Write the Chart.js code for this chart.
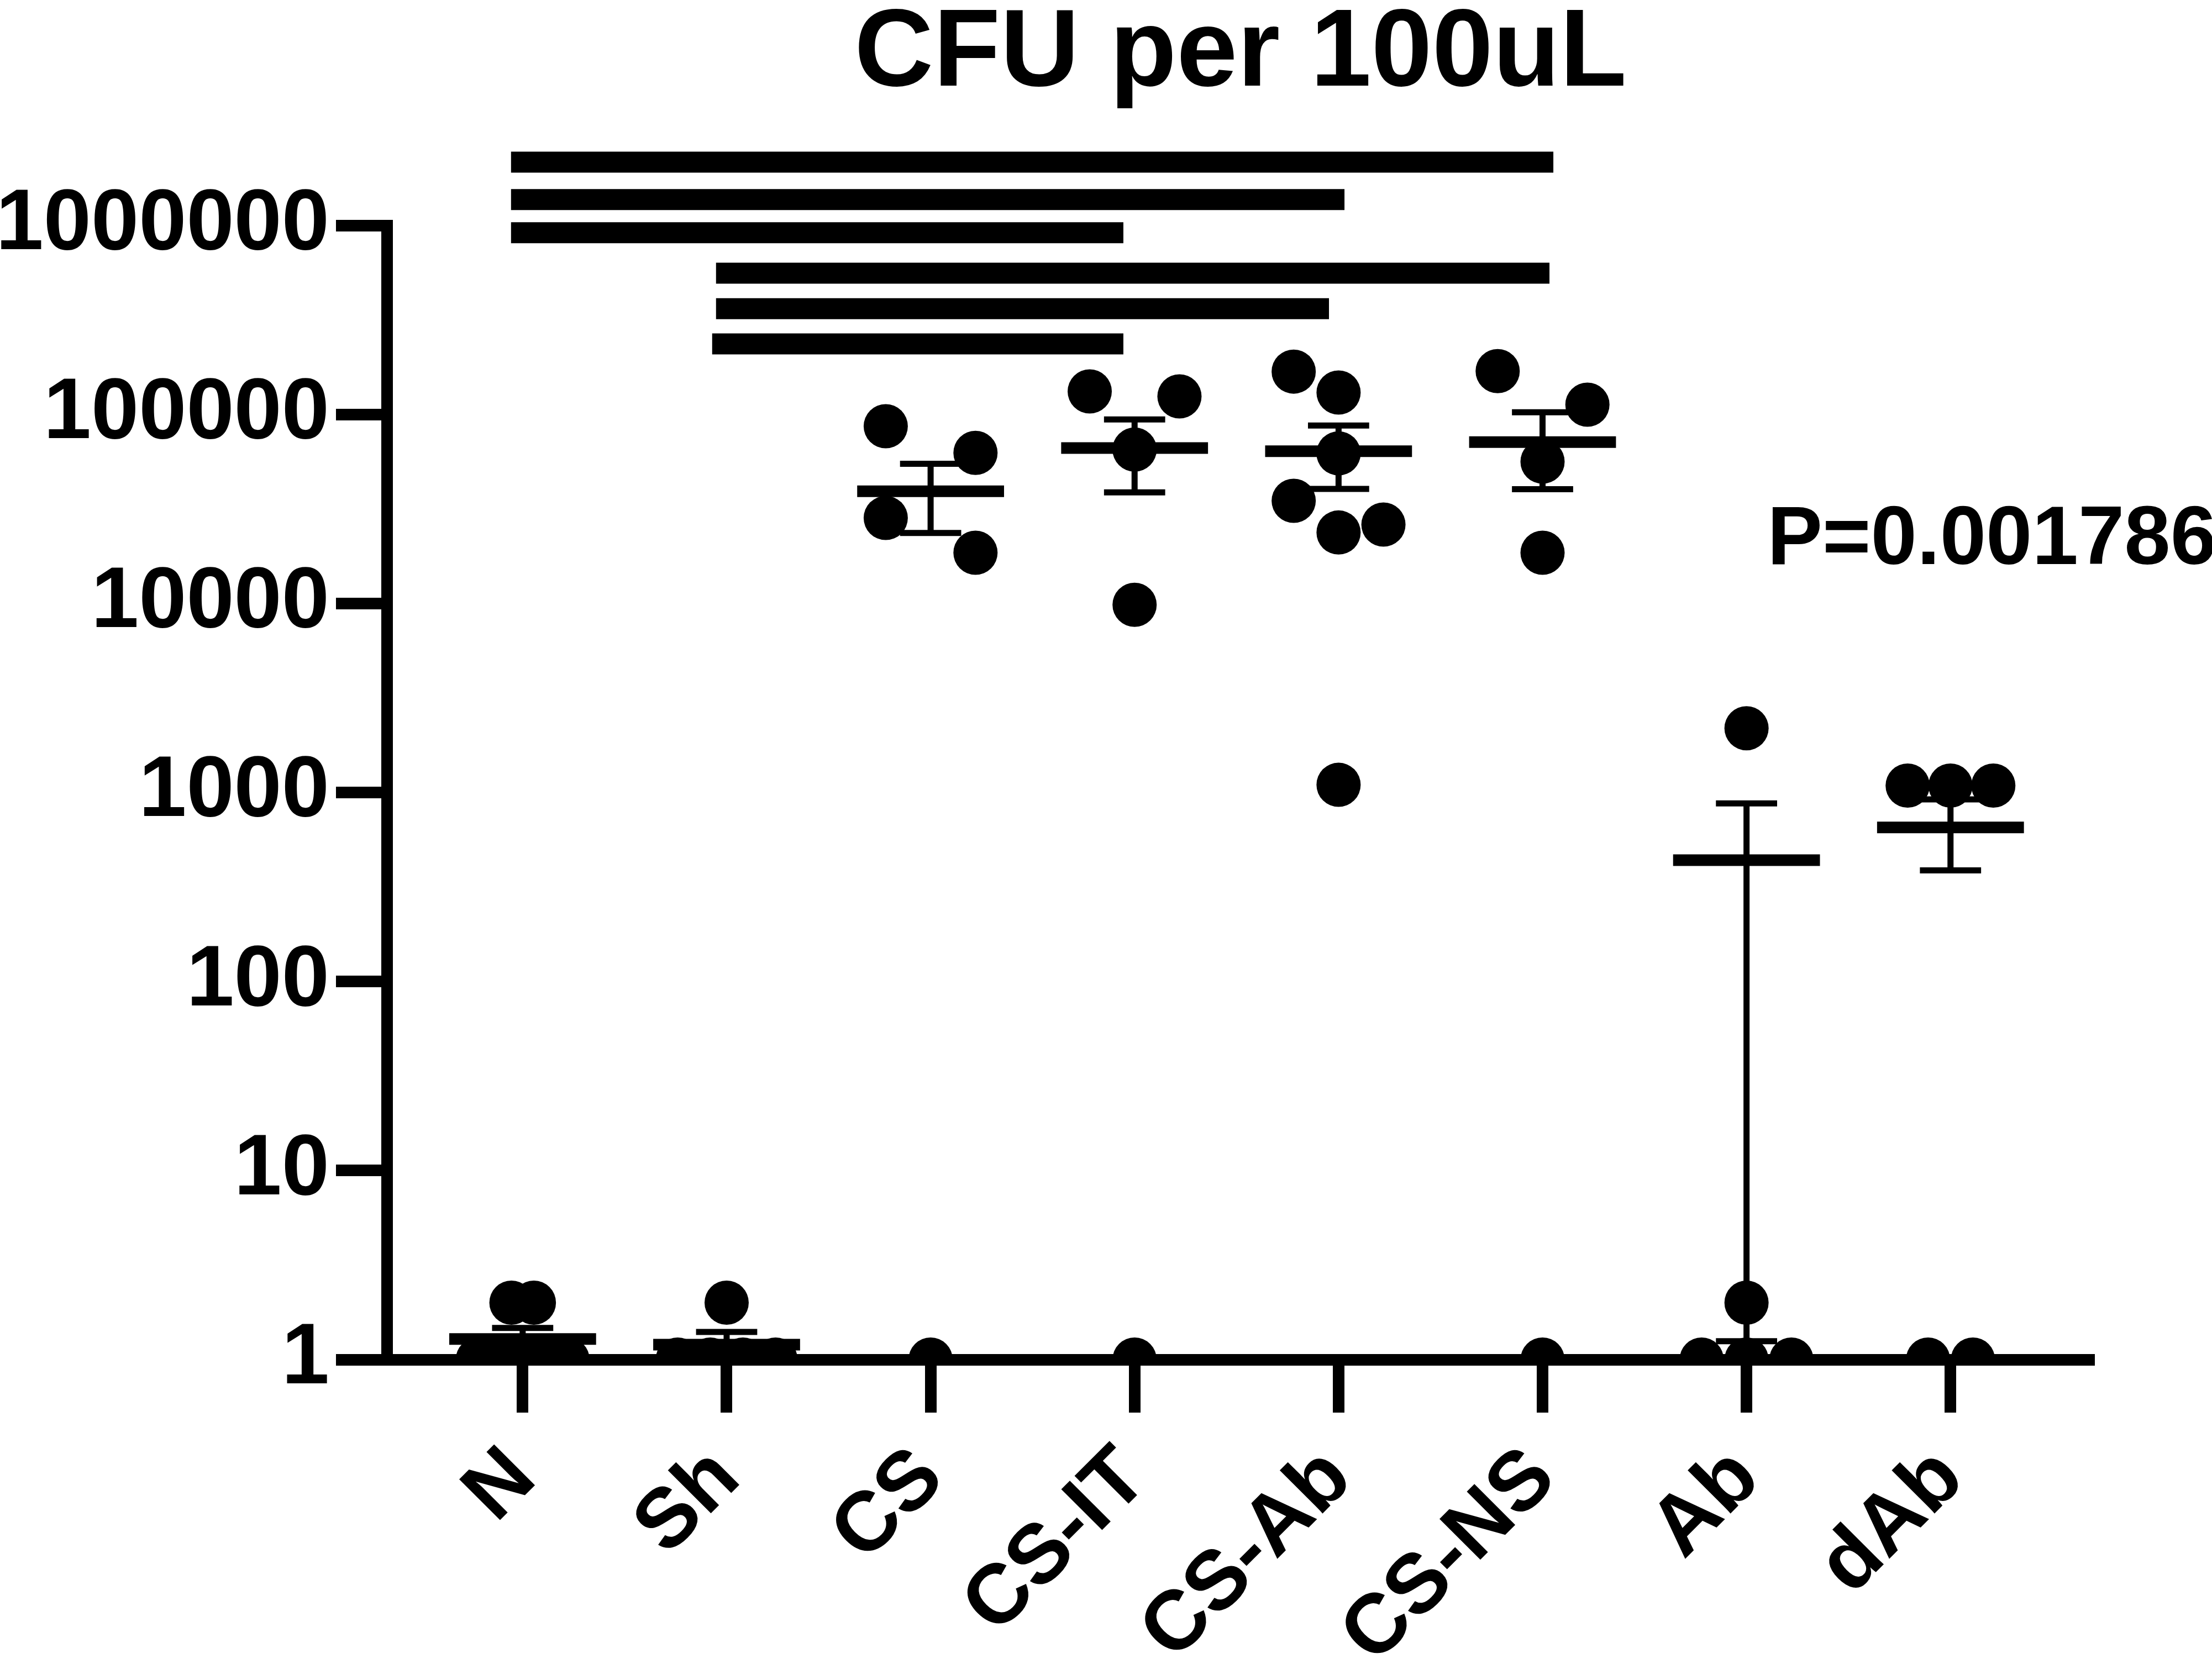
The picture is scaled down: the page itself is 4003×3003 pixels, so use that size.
<!DOCTYPE html>
<html>
<head>
<meta charset="utf-8">
<title>CFU per 100uL</title>
<script src="https://cdn.jsdelivr.net/npm/chart.js@4.4.1/dist/chart.umd.min.js"></script>
<style>
  html, body { margin: 0; padding: 0; background: #fff; }
  #wrap { width: 4003px; height: 3003px; }
</style>
</head>
<body>
<div id="wrap"><canvas id="chart" width="4003" height="3003"></canvas></div>
<script>
// groups on the x axis
const groups = ["N", "Sh", "CS", "CS-IT", "CS-Ab", "CS-NS", "Ab", "dAb"];

// CFU per 100uL, one value per animal
const cfuN = [2, 2, 1, 1, 1, 1, 1];
const cfuSh = [2, 1, 1, 1, 1];
const cfuCS = [86900, 62800, 28400, 18600, 1];
const cfuCSIT = [132700, 124900, 65400, 9860, 1];
const cfuCSAb = [169000, 131000, 62400, 35000, 23800, 26200, 1100];
const cfuCSNS = [170000, 113000, 56400, 18600, 1];
const cfuAb = [2190, 2, 1, 1, 1];
const cfudAb = [1090, 1090, 1090, 1, 1];

// horizontal scatter of the dots inside each group (category units)
const spreadN = [-0.055, 0.055, -0.22, -0.11, 0, 0.11, 0.22];
const spreadSh = [0, -0.24, -0.08, 0.08, 0.24];
const spreadCS = [-0.22, 0.22, -0.22, 0.22, 0];
const spreadCSIT = [-0.22, 0.22, 0, 0, 0];
const spreadCSAb = [-0.22, 0, 0, -0.22, 0, 0.22, 0];
const spreadCSNS = [-0.22, 0.22, 0, 0, 0];
const spreadAb = [0, 0, -0.22, 0, 0.22];
const spreaddAb = [-0.21, 0, 0.21, -0.11, 0.11];

// y axis ticks
const yTicks = [1, 10, 100, 1000, 10000, 100000, 1000000];
const yTickLabels = ["1", "10", "100", "1000", "10000", "100000", "1000000"];

// significance bars above the groups
const sigStart = [-0.057, -0.057, -0.057, 0.948, 0.948, 0.929];
const sigEnd = [5.053, 4.029, 2.945, 5.034, 3.953, 2.945];
const sigLevel = [2170000, 1374000, 918000, 561000, 364000, 237000];

const pText = "P=0.001786";
const pAt = { x: 6.101, y: 16200 };

const groupValues = [cfuN, cfuSh, cfuCS, cfuCSIT, cfuCSAb, cfuCSNS, cfuAb, cfudAb];
const groupSpread = [spreadN, spreadSh, spreadCS, spreadCSIT, spreadCSAb, spreadCSNS, spreadAb, spreaddAb];

const FONT = "'Liberation Sans', Arial, sans-serif";
const meanHalf = 0.36, capHalf = 0.15;

function meanSem(arr) {
  const n = arr.length;
  const m = arr.reduce((a, b) => a + b, 0) / n;
  const sd = Math.sqrt(arr.reduce((a, b) => a + (b - m) * (b - m), 0) / (n - 1));
  return { m, s: sd / Math.sqrt(n) };
}

const lineStyle = (w) => ({
  type: "scatter",
  showLine: true,
  borderColor: "#000",
  borderWidth: w,
  pointRadius: 0,
  pointHoverRadius: 0,
  clip: false
});

const datasets = [];

// dots
const dots = [];
groupValues.forEach((vals, i) => {
  vals.forEach((v, j) => dots.push({ x: i + groupSpread[i][j], y: v }));
});
datasets.push({
  type: "scatter",
  data: dots,
  pointRadius: 40,
  pointHoverRadius: 40,
  pointBackgroundColor: "#000",
  pointBorderWidth: 0,
  clip: { left: false, top: false, right: false, bottom: 0 }
});

// mean and SEM bars
groupValues.forEach((vals, i) => {
  const { m, s } = meanSem(vals);
  const lo = Math.max(m - s, 1);
  datasets.push(Object.assign(lineStyle(21), {
    data: [{ x: i - meanHalf, y: m }, { x: i + meanHalf, y: m }]
  }));
  datasets.push(Object.assign(lineStyle(11), {
    data: [{ x: i, y: lo }, { x: i, y: m + s }]
  }));
  datasets.push(Object.assign(lineStyle(11), {
    data: [{ x: i - capHalf, y: m + s }, { x: i + capHalf, y: m + s }]
  }));
  if (m - s > 1) {
    datasets.push(Object.assign(lineStyle(11), {
      data: [{ x: i - capHalf, y: m - s }, { x: i + capHalf, y: m - s }]
    }));
  }
});

// significance bars
sigLevel.forEach((lvl, k) => {
  datasets.push(Object.assign(lineStyle(38), {
    data: [{ x: sigStart[k], y: lvl }, { x: sigEnd[k], y: lvl }]
  }));
});

const pLabel = {
  id: "pLabel",
  afterDraw(c) {
    const ctx = c.ctx;
    ctx.save();
    ctx.fillStyle = "#000";
    ctx.font = "bold 150px " + FONT;
    ctx.textAlign = "left";
    ctx.textBaseline = "alphabetic";
    ctx.fillText(pText, c.scales.x.getPixelForValue(pAt.x), c.scales.y.getPixelForValue(pAt.y));
    ctx.restore();
  }
};

Chart.defaults.color = "#000";
Chart.defaults.font.family = FONT;

new Chart(document.getElementById("chart").getContext("2d"), {
  type: "scatter",
  data: { datasets },
  plugins: [pLabel],
  options: {
    responsive: false,
    animation: false,
    devicePixelRatio: 1,
    layout: { padding: { top: 0, right: 213, bottom: 0, left: 0 } },
    plugins: {
      legend: { display: false },
      tooltip: { enabled: false },
      title: {
        display: true,
        text: "CFU per 100uL",
        fullSize: false,
        color: "#000",
        font: { size: 198, weight: "bold", lineHeight: 0.75 },
        padding: { top: 26, bottom: 234 }
      }
    },
    scales: {
      x: {
        type: "linear",
        min: -0.666,
        max: 7.705,
        afterBuildTicks: (s) => { s.ticks = groups.map((g, i) => ({ value: i })); },
        afterFit: (s) => { s.height = 542; },
        ticks: {
          autoSkip: false,
          minRotation: 45,
          maxRotation: 45,
          padding: 30,
          color: "#000",
          font: { size: 152, weight: "bold" },
          callback: (v) => groups[v]
        },
        grid: {
          drawOnChartArea: false,
          drawTicks: true,
          tickLength: 96,
          tickWidth: 21,
          tickColor: "#000"
        },
        border: { display: true, width: 21, color: "#000" }
      },
      y: {
        type: "logarithmic",
        min: 1,
        max: 1000000,
        afterBuildTicks: (s) => { s.ticks = yTicks.map((v) => ({ value: v })); },
        afterFit: (s) => { s.width = 700; },
        ticks: {
          padding: 12,
          color: "#000",
          font: { size: 155, weight: "bold" },
          callback: (v) => yTickLabels[yTicks.indexOf(v)]
        },
        grid: {
          drawOnChartArea: false,
          drawTicks: true,
          tickLength: 92,
          tickWidth: 21,
          tickColor: "#000"
        },
        border: { display: true, width: 21, color: "#000" }
      }
    }
  }
});
</script>
</body>
</html>
